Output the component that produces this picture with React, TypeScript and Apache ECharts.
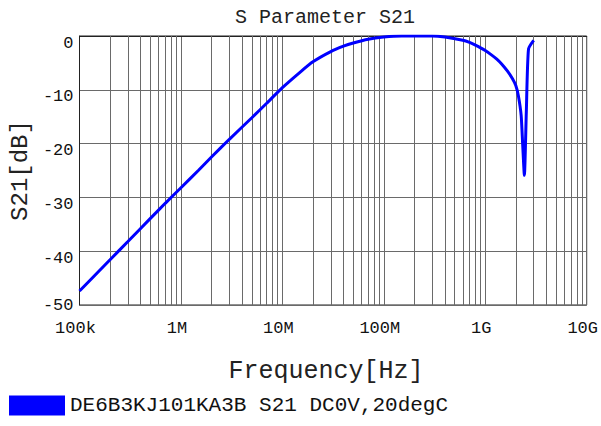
import React, { useEffect, useRef } from "react";
import * as echarts from "echarts";

const seriesName = "DE6B3KJ101KA3B S21 DC0V,20degC";
const titleText = "S Parameter S21";
const xAxisName = "Frequency[Hz]";
const yAxisName = "S21[dB]";

const freqHz = [
  1e5, 1.5e5, 2e5, 3e5, 5e5, 7e5, 1e6, 1.5e6, 2e6, 3e6, 5e6, 7e6, 1e7, 1.5e7,
  2e7, 3e7, 4e7, 5e7, 7e7, 1e8, 1.5e8, 2e8, 3e8, 4e8, 6e8, 7e8, 8e8, 9e8, 1e9,
  1.15e9, 1.3e9, 1.45e9, 1.65e9, 1.85e9, 2.0e9, 2.12e9, 2.26e9, 2.34e9, 2.43e9,
  2.54e9, 2.67e9, 3.0e9,
];
const s21dB = [
  -47.4, -44.0, -41.6, -38.2, -33.9, -31.1, -28.2, -24.9, -22.5, -19.2, -15.2,
  -12.5, -9.6, -6.7, -4.8, -2.9, -1.9, -1.3, -0.6, -0.2, 0, 0, 0, -0.2, -0.8,
  -1.2, -1.7, -2.2, -2.7, -3.5, -4.3, -5.2, -6.5, -7.9, -9.2, -11.1, -14.8,
  -20.3, -25.9, -14.1, -2.4, -0.8,
];
const xTickLabels = ["100k", "1M", "10M", "100M", "1G", "10G"];
const yMin = -50;
const yMax = 0;
const yStep = 10;

const FONT = "Liberation Mono";

export default function App() {
  const ref = useRef<HTMLDivElement>(null);
  useEffect(() => {
    const chart = echarts.init(ref.current!, null, { renderer: "svg" });
    const minorLines: { xAxis: number }[] = [];
    for (let d = 5; d < 10; d++) {
      for (let m = 2; m <= 9; m++) minorLines.push({ xAxis: m * Math.pow(10, d) });
    }
    const gridColor = "#6a6a6a";
    chart.setOption({
      animation: false,
      backgroundColor: "#fff",
      title: {
        text: titleText,
        left: 230,
        top: 2,
        textStyle: { fontFamily: FONT, fontSize: 20, fontWeight: "normal", color: "#222" },
      },
      legend: {
        data: [{ name: seriesName, icon: "rect" }],
        left: 9,
        top: 395,
        padding: 0,
        itemWidth: 56,
        itemHeight: 20,
        itemGap: 5,
        textStyle: { fontFamily: FONT, fontSize: 21, color: "#111", padding: [0, 0, 12, 0] },
      },
      grid: {
        left: 69,
        right: 14,
        top: 36,
        height: 269,
        show: true,
        borderColor: "#222",
        borderWidth: 1,
        containLabel: false,
      },
      xAxis: {
        type: "log",
        logBase: 10,
        min: 1e5,
        max: 1e10,
        name: xAxisName,
        nameLocation: "middle",
        nameGap: 54,
        nameTextStyle: { fontFamily: FONT, fontSize: 25, color: "#222", padding: [0, 14, 0, 0] },
        axisLine: { show: true, lineStyle: { color: "#222", width: 1 } },
        axisTick: { show: false },
        axisLabel: {
          fontFamily: FONT,
          fontSize: 17,
          color: "#111",
          margin: 15,
          padding: [0, 8, 0, 0],
          showMinLabel: true,
          showMaxLabel: true,
          formatter: (v: number) => xTickLabels[Math.round(Math.log10(v)) - 5] ?? "",
        },
        splitLine: { show: true, lineStyle: { color: gridColor, width: 1 } },
      },
      yAxis: {
        type: "value",
        min: yMin,
        max: yMax,
        interval: yStep,
        name: yAxisName,
        nameLocation: "middle",
        nameGap: 40,
        nameTextStyle: { fontFamily: FONT, fontSize: 24, color: "#222" },
        axisLine: { show: true, lineStyle: { color: "#222", width: 1 } },
        axisTick: { show: false },
        axisLabel: {
          fontFamily: FONT,
          fontSize: 17,
          lineHeight: 14,
          color: "#111",
          margin: 6,
          verticalAlign: "middle",
          formatter: (v: number) => (v === yMin ? String(v) : "\n" + String(v)),
        },
        splitLine: { show: true, lineStyle: { color: gridColor, width: 1 } },
      },
      series: [
        {
          name: "minor-grid",
          type: "line",
          data: [],
          z: 1,
          silent: true,
          markLine: {
            silent: true,
            symbol: ["none", "none"],
            label: { show: false },
            lineStyle: { color: gridColor, width: 1, type: "solid" },
            emphasis: { disabled: true },
            data: minorLines,
          },
        },
        {
          name: seriesName,
          type: "line",
          z: 5,
          data: freqHz.map((f, i) => [f, s21dB[i]]),
          showSymbol: false,
          smooth: 0.2,
          lineStyle: { color: "#0000ff", width: 3 },
          itemStyle: { color: "#0000ff" },
        },
      ],
    });
    return () => chart.dispose();
  }, []);
  return (
    <div
      ref={ref}
      style={{ position: "absolute", left: 0, top: 0, width: 601, height: 426 }}
    />
  );
}
